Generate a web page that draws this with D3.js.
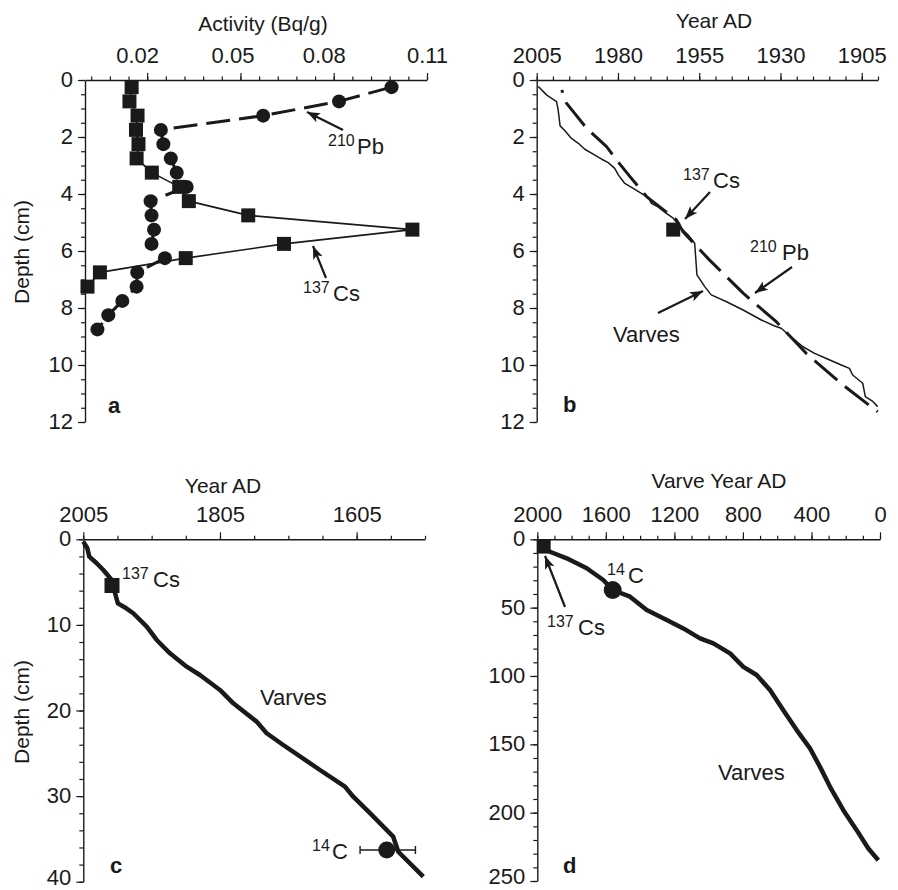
<!DOCTYPE html>
<html><head><meta charset="utf-8">
<script src="https://cdn.jsdelivr.net/npm/d3@7"></script>
<style>
body{margin:0;background:#fff}
text{font-family:"Liberation Sans",Arial,Helvetica,sans-serif;fill:#1a1a1a}
</style>
</head><body>
<svg id="chart" width="898" height="890"></svg>
<script>
// ---------- DATA ----------
// Panel a: activity profiles
const csDepthA = [0.25,0.75,1.25,1.75,2.25,2.75,3.25,3.75,4.25,4.75,5.25,5.75,6.25,6.75,7.25];
const csActivityA = [0.0150,0.0143,0.0169,0.0164,0.0172,0.0166,0.0215,0.0303,0.0334,0.0525,0.1053,0.0640,0.0324,0.0048,0.0008];
const pbDepthA = [0.25,0.75,1.25,1.75,2.25,2.75,3.25,3.75,4.25,4.75,5.25,5.75,6.25,6.75,7.25,7.75,8.25,8.75];
const pbActivityA = [0.0986,0.0817,0.0573,0.0244,0.0252,0.0276,0.0295,0.0327,0.0211,0.0214,0.0222,0.0214,0.0257,0.0168,0.0166,0.0120,0.0075,0.0040];
const activityTicks = [0.02,0.05,0.08,0.11];
const activityMinor = [0.002,0.008,0.014,0.02,0.026,0.032,0.038,0.044,0.05,0.056,0.062,0.068,0.074,0.08,0.086,0.092,0.098,0.104,0.11];
const depthTicksAB = [0,2,4,6,8,10,12];

// Panel b: age-depth (varves vs 210Pb)
const varveYearB = [2004.5,2001.9,1998.9,1998.4,1997.8,1996.3,1994.3,1992.2,1990.2,1987.6,1985.0,1983.0,1981.0,1979.9,1977.9,1975.3,1972.8,1970.7,1969.7,1967.7,1965.1,1963.0,1960.5,1958.4,1956.4,1956.1,1955.7,1953.3,1951.3,1946.6,1941.5,1935.9,1931.8,1929.8,1926.2,1923.1,1919.5,1915.9,1911.3,1908.8,1907.8,1904.7,1903.9,1901.6,1900.1];
const varveDepthB = [0.23,0.53,0.76,1.05,1.61,1.78,2.05,2.22,2.43,2.60,2.78,2.90,3.10,3.33,3.63,3.80,3.98,4.12,4.33,4.45,4.68,4.85,5.20,5.44,5.73,6.20,6.84,7.25,7.54,7.78,8.07,8.42,8.63,8.71,9.06,9.36,9.59,9.77,10.00,10.12,10.35,10.64,11.11,11.28,11.46];
const pbYearB = [1997.3,1995.8,1989.6,1983.5,1980.4,1976.3,1971.2,1962.0,1960.0,1951.8,1941.5,1931.3,1922.1,1910.8,1900.1];
const pbDepthB = [0.35,0.82,1.70,2.34,2.81,3.39,4.09,4.91,5.32,6.32,7.48,8.48,9.59,10.70,11.64];
const csYearB = [1963];
const csDepthB = [5.25];
const yearTicksB = [2005,1980,1955,1930,1905];

// Panel c: varve chronology, 0-40 cm
const varveYearC = [2005,1999.1,1996.2,1985.4,1975.7,1963.4,1957.8,1954.4,1942.1,1931.9,1912.2,1897.6,1878.2,1853.7,1834.3,1805,1785.5,1751.3,1736.7,1712.4,1658.7,1622.1,1610,1585.5,1551.5,1544.1,1507.5];
const varveDepthC = [0.28,1.05,2.03,2.80,3.59,4.75,6.50,7.48,8.06,8.64,10.2,11.76,13.32,14.88,15.85,17.6,19.16,21.3,22.66,24.03,26.95,28.9,30.07,32.0,34.74,36.5,39.4];
const csYearC = [1963];
const csDepthC = [5.4];
const c14YearC = [1561];
const c14DepthC = [36.3];
const c14ErrOldC = [1519];
const c14ErrYoungC = [1600];
const yearTicksC = [2005,1805,1605];
const depthTicksC = [0,10,20,30,40];

// Panel d: full varve chronology
const varveYearD = [1963,1925.9,1828.4,1711.6,1614.7,1559.9,1458.8,1361.4,1244.6,1147.7,1050.3,972.5,875.1,797.4,719.6,641.9,564.2,486.1,408.5,350.1,291.7,213.9,136.0,68.1,9.7];
const varveDepthD = [5.3,9.1,13.9,21.2,29.8,37.1,42.0,51.8,59.1,65.2,72.5,76.1,83.5,93.3,99.3,110.3,125,139.6,153,166.5,181.1,198.2,212.8,226.2,234.8];
const csYearD = [1963];
const csDepthD = [5.3];
const c14YearD = [1560];
const c14DepthD = [37.1];
const yearTicksD = [2000,1600,1200,800,400,0];
const depthTicksD = [0,50,100,150,200,250];

// ---------- DRAWING ----------
const svg = d3.select("#chart");
const INK = "#1a1a1a";
svg.append("defs").append("marker")
  .attr("id","arr").attr("markerUnits","userSpaceOnUse")
  .attr("markerWidth",14).attr("markerHeight",11)
  .attr("refX",13).attr("refY",5).attr("orient","auto")
  .append("path").attr("d","M0,0 L13,5 L0,10 L3,5 z").attr("fill",INK);

const zip = (a,b) => a.map((v,i)=>[v,b[i]]);
const range = (a,b,s) => d3.range(a, b + s/2, s);

function axes(x, y, xMajor, xMinor, yMajor, yMinor, xFmt) {
  const g = svg.append("g");
  const top = g.append("g").attr("transform",`translate(0,${y.range()[0]})`)
    .call(d3.axisTop(x).tickValues(xMajor).tickSize(7).tickSizeOuter(0).tickPadding(10).tickFormat(xFmt));
  g.append("g").attr("transform",`translate(0,${y.range()[0]})`)
    .call(d3.axisTop(x).tickValues(xMinor).tickSize(3.5).tickSizeOuter(0).tickFormat(""))
    .select(".domain").remove();
  const left = g.append("g").attr("transform",`translate(${x.range()[0]},0)`)
    .call(d3.axisLeft(y).tickValues(yMajor).tickSize(7).tickSizeOuter(0).tickPadding(5).tickFormat(d3.format("d")));
  g.append("g").attr("transform",`translate(${x.range()[0]},0)`)
    .call(d3.axisLeft(y).tickValues(yMinor).tickSize(4).tickSizeOuter(0).tickFormat(""))
    .select(".domain").remove();
  g.selectAll(".domain").attr("stroke",INK).attr("stroke-width",1.4);
  g.selectAll(".tick line").attr("stroke",INK).attr("stroke-width",1.2);
  g.selectAll(".tick text").attr("font-size",22).attr("fill",INK)
    .attr("font-family","Liberation Sans, Arial, sans-serif");
  const n = yMajor.length;
  // last label sits at the page's bottom edge: nudge it up slightly so it stays inside
  left.selectAll(".tick text").attr("dy",(d,i)=> (i === n-1 && y(d) > 870) ? "0.12em" : "0.3em");
  return {top, left};
}
function txt(x, y, s, size, opts={}) {
  const t = svg.append("text").attr("x",x).attr("y",y).attr("font-size",size).text(s);
  if (opts.anchor) t.attr("text-anchor",opts.anchor);
  if (opts.bold) t.attr("font-weight","bold");
  if (opts.rot) t.attr("transform",`rotate(-90,${x},${y})`);
  return t;
}
function iso(x, y, sup, main, mainX) {
  txt(x, y-8, sup, 16);
  txt(mainX, y, main, 22);
}
function arrow(x1,y1,x2,y2) {
  svg.append("line").attr("x1",x1).attr("y1",y1).attr("x2",x2).attr("y2",y2)
    .attr("stroke",INK).attr("stroke-width",2.2).attr("marker-end","url(#arr)");
}
function path(x, y, xs, ys, w, dash, off) {
  const p = svg.append("path").datum(zip(xs, ys))
    .attr("d", d3.line().x(d=>x(d[0])).y(d=>y(d[1])))
    .attr("fill","none").attr("stroke",INK).attr("stroke-width",w)
    .attr("stroke-linejoin","round");
  if (dash) p.attr("stroke-dasharray",dash).attr("stroke-dashoffset",off||0);
  return p;
}
function squares(x, y, xs, ys, s) {
  svg.append("g").selectAll("rect").data(zip(xs, ys)).join("rect")
    .attr("x",d=>x(d[0])-s/2).attr("y",d=>y(d[1])-s/2).attr("width",s).attr("height",s).attr("fill",INK);
}
function dots(x, y, xs, ys, r) {
  svg.append("g").selectAll("circle").data(zip(xs, ys)).join("circle")
    .attr("cx",d=>x(d[0])).attr("cy",d=>y(d[1])).attr("r",r).attr("fill",INK);
}

// ----- Panel a -----
{
  const x = d3.scaleLinear().domain([0,0.11]).range([85,427]);
  const y = d3.scaleLinear().domain([0,12]).range([80,422]);
  const ax = axes(x, y, activityTicks, activityMinor, depthTicksAB, range(0,12,0.5), d3.format(".2f"));
  const shift = [-10,-8,-10,0];
  ax.top.selectAll(".tick text").attr("dx",(d,i)=>shift[i]);
  path(x, y, pbActivityA, pbDepthA, 3, "24,9", 0);
  path(x, y, csActivityA, csDepthA, 1.6);
  dots(x, y, pbActivityA, pbDepthA, 7);
  squares(x, y, csActivityA, csDepthA, 14);
  txt(263, 31, "Activity (Bq/g)", 21, {anchor:"middle"});
  txt(29, 252, "Depth (cm)", 21, {anchor:"middle", rot:true});
  arrow(343,130,307,112);
  iso(328,154,"210","Pb",357);
  arrow(326,278,313,246);
  iso(303,301,"137","Cs",333);
  txt(108, 413, "a", 22, {bold:true});
}

// ----- Panel b -----
{
  const x = d3.scaleLinear().domain([2005,1900]).range([536.7,878]);
  const y = d3.scaleLinear().domain([0,12]).range([80,422]);
  axes(x, y, yearTicksB, range(1900,2005,5), depthTicksAB, range(0,12,0.5), d3.format("d"));
  path(x, y, varveYearB, varveDepthB, 1.5);
  path(x, y, pbYearB, pbDepthB, 3, "30,10", 27);
  squares(x, y, csYearB, csDepthB, 14);
  txt(714, 28, "Year AD", 21, {anchor:"middle"});
  arrow(710,192,685,219);
  iso(683,188,"137","Cs",713);
  arrow(792,267,755,293);
  iso(750,260,"210","Pb",782);
  arrow(658,313,703,291);
  txt(613, 342, "Varves", 22);
  txt(563, 412, "b", 22, {bold:true});
}

// ----- Panel c -----
{
  const x = d3.scaleLinear().domain([2005,1505]).range([83.3,425]);
  const y = d3.scaleLinear().domain([0,40]).range([539.3,881.7]);
  axes(x, y, yearTicksC, range(1505,2005,50), depthTicksC, range(0,40,2), d3.format("d"));
  path(x, y, varveYearC, varveDepthC, 4.5);
  squares(x, y, csYearC, csDepthC, 15);
  // 14C error bar
  const eg = svg.append("g").attr("stroke",INK).attr("stroke-width",1.4);
  eg.append("line").attr("x1",x(c14ErrYoungC[0])).attr("x2",x(c14ErrOldC[0]))
    .attr("y1",y(c14DepthC[0])).attr("y2",y(c14DepthC[0]));
  [c14ErrYoungC[0], c14ErrOldC[0]].forEach(v=>eg.append("line")
    .attr("x1",x(v)).attr("x2",x(v)).attr("y1",y(c14DepthC[0])-4).attr("y2",y(c14DepthC[0])+4));
  dots(x, y, c14YearC, c14DepthC, 8.5);
  txt(223, 493, "Year AD", 21, {anchor:"middle"});
  txt(29, 712, "Depth (cm)", 21, {anchor:"middle", rot:true});
  iso(122,587,"137","Cs",153);
  iso(312,859,"14","C",332);
  txt(260, 705, "Varves", 22);
  txt(110, 873, "c", 22, {bold:true});
}

// ----- Panel d -----
{
  const x = d3.scaleLinear().domain([2000,0]).range([537.3,880]);
  const y = d3.scaleLinear().domain([0,250]).range([539.3,881]);
  axes(x, y, yearTicksD, range(0,2000,100), depthTicksD, range(0,250,10), d3.format("d"));
  path(x, y, varveYearD, varveDepthD, 4.5);
  squares(x, y, csYearD, csDepthD, 14);
  dots(x, y, c14YearD, c14DepthD, 9);
  txt(719, 488, "Varve Year AD", 21, {anchor:"middle"});
  iso(607,583,"14","C",628);
  arrow(565,607,545,556);
  iso(547,635,"137","Cs",578);
  txt(718, 780, "Varves", 22);
  txt(563, 873, "d", 22, {bold:true});
}
</script>
</body></html>
